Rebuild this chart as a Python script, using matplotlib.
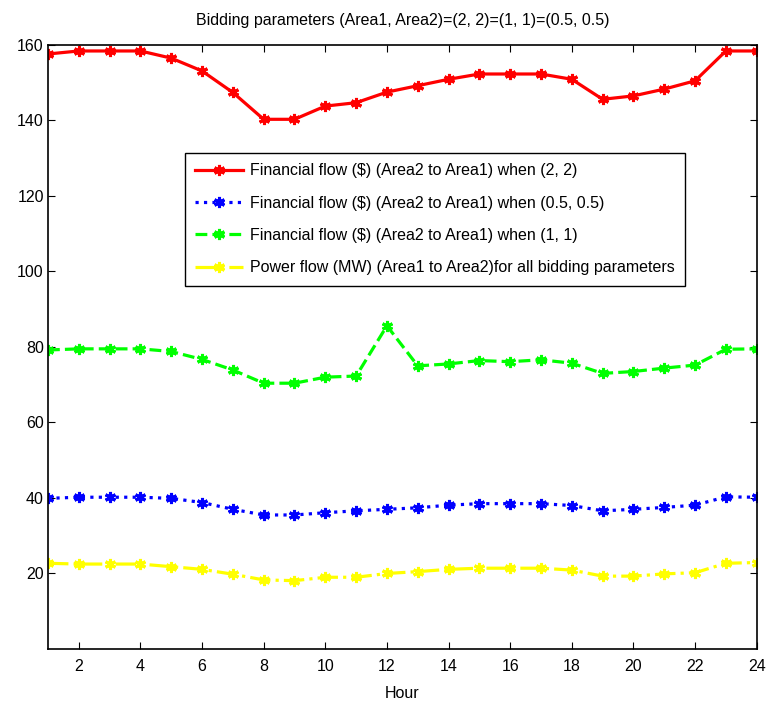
import matplotlib
matplotlib.use('Agg')
import matplotlib.pyplot as plt
from matplotlib import font_manager
import numpy as np

names = {f.name for f in font_manager.fontManager.ttflist}
if 'Liberation Sans Narrow' in names:
    plt.rcParams['font.family'] = ['Liberation Sans Narrow', 'DejaVu Sans']
    fs = 13
else:
    plt.rcParams['font.family'] = ['Liberation Sans', 'DejaVu Sans']
    fs = 11.5

hours = np.arange(1, 25)

fin_22 = [157.6, 158.4, 158.4, 158.4, 156.5, 153.1, 147.4, 140.3, 140.3, 143.8, 144.7, 147.5,
          149.2, 150.9, 152.3, 152.3, 152.3, 150.9, 145.6, 146.5, 148.3, 150.5, 158.4, 158.4]
fin_05 = [39.9, 40.2, 40.2, 40.2, 39.9, 38.8, 37.0, 35.5, 35.5, 36.1, 36.6, 37.0,
          37.4, 38.1, 38.5, 38.5, 38.5, 38.0, 36.6, 37.0, 37.5, 38.1, 40.3, 40.2]
fin_11 = [79.2, 79.5, 79.5, 79.5, 78.8, 76.7, 73.9, 70.4, 70.4, 72.0, 72.3, 85.6,
          75.0, 75.5, 76.4, 76.1, 76.6, 75.7, 73.0, 73.5, 74.4, 75.2, 79.4, 79.5]
power = [22.7, 22.5, 22.5, 22.5, 21.8, 21.1, 19.8, 18.3, 18.1, 19.0, 19.0, 20.0,
         20.5, 21.1, 21.4, 21.4, 21.4, 20.9, 19.3, 19.3, 19.9, 20.2, 22.7, 22.9]

labels = ['Financial flow ($) (Area2 to Area1) when (2, 2)',
          'Financial flow ($) (Area2 to Area1) when (0.5, 0.5)',
          'Financial flow ($) (Area2 to Area1) when (1, 1)',
          'Power flow (MW) (Area1 to Area2)for all bidding parameters']

fig = plt.figure(figsize=(7.69, 7.02), dpi=100)
ax = fig.add_axes([0.0624, 0.0755, 0.9216, 0.8605])

mk = dict(marker=(6, 2, 0), markersize=8, markeredgewidth=2.2, linewidth=2.3)
ax.plot(hours, fin_22, '-', color=(1, 0, 0), label=labels[0], **mk)
ax.plot(hours, fin_05, ':', color=(0, 0, 1), label=labels[1], **mk)
ax.plot(hours, fin_11, '--', color=(0, 1, 0), label=labels[2], **mk)
ax.plot(hours, power, '-.', color=(1, 1, 0), label=labels[3], **mk)

ax.set_xlim(1, 24)
ax.set_ylim(0, 160)
ax.set_xticks(np.arange(2, 25, 2))
ax.set_yticks(np.arange(20, 161, 20))
ax.tick_params(direction='in', top=True, right=True, length=5, labelsize=fs)
ax.tick_params(axis='y', pad=3)
ax.tick_params(axis='x', pad=7)
for s in ax.spines.values():
    s.set_linewidth(1.2)

ax.set_title('Bidding parameters (Area1, Area2)=(2, 2)=(1, 1)=(0.5, 0.5)', fontsize=fs, pad=14)
ax.set_xlabel('Hour', fontsize=fs, labelpad=9)

leg = ax.legend(loc='upper left', bbox_to_anchor=(0.193, 0.821), borderaxespad=0,
                fontsize=fs, handlelength=3.0, handletextpad=0.45, fancybox=False,
                framealpha=1, edgecolor='black', borderpad=0.65, labelspacing=1.08)
leg.get_frame().set_linewidth(1.0)

fig.savefig('out.png', dpi=100)
